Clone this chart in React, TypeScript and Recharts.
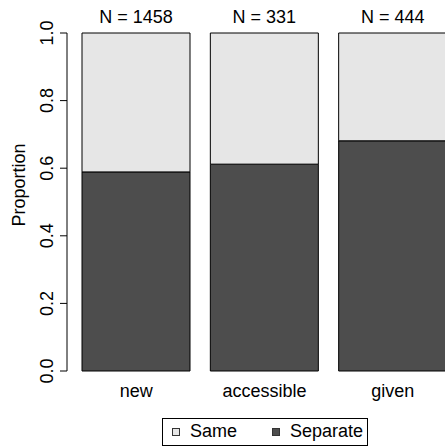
import { BarChart, Bar, XAxis, YAxis, LabelList } from "recharts";

const categories = ["new", "accessible", "given"];
const separateProp = [0.589, 0.612, 0.681];
const sameProp = [0.411, 0.388, 0.319];
const counts = [1458, 331, 444];
const yTicks = [0, 0.2, 0.4, 0.6, 0.8, 1];

const sameColor = "#E6E6E6";
const separateColor = "#4D4D4D";
const font = '"Liberation Sans", Arial, Helvetica, sans-serif';

const data = categories.map((cat, i) => ({
  cat,
  Separate: separateProp[i],
  Same: sameProp[i],
  n: counts[i],
}));

function YTick(props: any) {
  const { y, payload } = props;
  const x = 53;
  return (
    <text
      x={x}
      y={y}
      transform={`rotate(-90 ${x} ${y})`}
      textAnchor="middle"
      fontSize={18}
      fill="#000"
    >
      {Number(payload.value).toFixed(1)}
    </text>
  );
}

function XTick(props: any) {
  const { x, y, payload } = props;
  return (
    <text x={x} y={y} dy={25.5} textAnchor="middle" fontSize={18} fill="#000">
      {payload.value}
    </text>
  );
}

function YLabel() {
  const x = 25;
  const y = 185;
  return (
    <text
      x={x}
      y={y}
      transform={`rotate(-90 ${x} ${y})`}
      textAnchor="middle"
      fontSize={18}
      fill="#000"
    >
      Proportion
    </text>
  );
}

export default function App() {
  return (
    <div
      style={{
        position: "absolute",
        left: 0,
        top: 0,
        width: 445,
        height: 446,
        overflow: "hidden",
        background: "#fff",
        fontFamily: font,
      }}
    >
      <BarChart
        width={457}
        height={446}
        data={data}
        margin={{ top: 33, right: 0, bottom: 0, left: 0 }}
      >
        <XAxis
          dataKey="cat"
          height={75}
          axisLine={false}
          tickLine={false}
          tickSize={0}
          tickMargin={0}
          padding={{ left: 5, right: 0 }}
          tick={<XTick />}
          interval={0}
        />
        <YAxis
          width={67}
          domain={[0, 1]}
          ticks={yTicks}
          tickSize={7}
          tickLine={{ stroke: "#000" }}
          axisLine={{ stroke: "#000" }}
          tick={<YTick />}
          label={<YLabel />}
        />
        <Bar
          dataKey="Separate"
          stackId="a"
          fill={separateColor}
          stroke="#000"
          barSize={108}
          isAnimationActive={false}
        />
        <Bar
          dataKey="Same"
          stackId="a"
          fill={sameColor}
          stroke="#000"
          barSize={108}
          isAnimationActive={false}
        >
          <LabelList
            dataKey="n"
            position="top"
            offset={10}
            fontSize={18}
            fill="#000"
            formatter={(v: any) => `N = ${v}`}
          />
        </Bar>
      </BarChart>
      <svg
        width={206}
        height={28}
        style={{ position: "absolute", left: 162, top: 418 }}
      >
        <rect x={0.5} y={0.5} width={205} height={27} fill="#fff" stroke="#000" />
        <rect x={10.5} y={10.5} width={7} height={7} fill={sameColor} stroke="#333" />
        <text x={28} y={19} fontSize={18} fill="#000">
          Same
        </text>
        <rect x={110.5} y={10.5} width={7} height={7} fill={separateColor} stroke="#333" />
        <text x={128} y={19} fontSize={18} fill="#000">
          Separate
        </text>
      </svg>
    </div>
  );
}
